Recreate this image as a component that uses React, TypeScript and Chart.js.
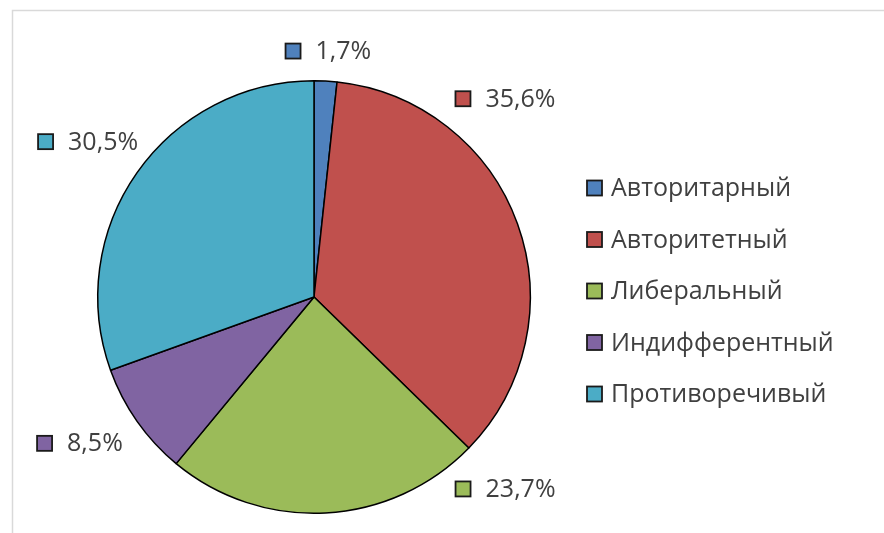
import React, { useEffect, useRef } from "react";
import { Chart, registerables } from "chart.js";

Chart.register(...registerables);

const categories = ["Авторитарный", "Авторитетный", "Либеральный", "Индифферентный", "Противоречивый"];
const values = [1.7, 35.6, 23.7, 8.5, 30.5];
const colors = ["#4F81BD", "#C0504D", "#9BBB59", "#8064A2", "#4BACC6"];

// offsets of each data label (marker left-centre) from the slice's outer mid point
const labelOffsets = [
  [-41, -30],
  [-63, -125],
  [129, -24],
  [-101, 22],
  [-100, -31],
];

const FONT = "25px 'Open Sans'";
const TEXT_COLOR = "#404040";
const formatValue = (v: number) => v.toFixed(1).replace(".", ",") + "%";

const drawMarker = (ctx: CanvasRenderingContext2D, x: number, cy: number, color: string) => {
  const s = 15;
  ctx.fillStyle = color;
  ctx.fillRect(x + 1, cy - s / 2, s, s);
  ctx.lineWidth = 1.8;
  ctx.strokeStyle = "#1a1a1a";
  ctx.strokeRect(x + 1, cy - s / 2, s, s);
};

const overlayPlugin = {
  id: "overlay",
  beforeDraw(chart: any) {
    const ctx = chart.ctx as CanvasRenderingContext2D;
    ctx.save();
    ctx.fillStyle = "#ffffff";
    ctx.fillRect(0, 0, chart.width, chart.height);
    ctx.strokeStyle = "#d9d9d9";
    ctx.lineWidth = 1.5;
    ctx.strokeRect(12.5, 10.5, chart.width + 20, chart.height + 20);
    ctx.restore();
  },
  afterDraw(chart: any) {
    const ctx = chart.ctx as CanvasRenderingContext2D;
    const meta = chart.getDatasetMeta(0);
    ctx.save();
    ctx.font = FONT;
    ctx.textBaseline = "middle";
    ctx.textAlign = "left";
    meta.data.forEach((arc: any, i: number) => {
      const mid = (arc.startAngle + arc.endAngle) / 2;
      const px = arc.x + Math.cos(mid) * arc.outerRadius;
      const py = arc.y + Math.sin(mid) * arc.outerRadius;
      const x = px + labelOffsets[i][0];
      const y = py + labelOffsets[i][1];
      drawMarker(ctx, x, y, colors[i]);
      ctx.fillStyle = TEXT_COLOR;
      ctx.fillText(formatValue(values[i]), x + 31, y + 1);
    });
    // legend
    const area = chart.chartArea;
    const lx = area.right + 55;
    const rowH = 51.5;
    const cy0 = (area.top + area.bottom) / 2 - 2 * rowH - 6;
    categories.forEach((name, i) => {
      const cy = cy0 + i * rowH;
      drawMarker(ctx, lx, cy, colors[i]);
      ctx.fillStyle = TEXT_COLOR;
      ctx.fillText(name, lx + 25, cy + 1);
    });
    ctx.restore();
  },
};

export default function App() {
  const ref = useRef<HTMLCanvasElement>(null);
  useEffect(() => {
    if (!ref.current) return;
    const chart = new Chart(ref.current, {
      type: "pie",
      data: {
        labels: categories,
        datasets: [
          {
            data: values,
            backgroundColor: colors,
            borderColor: "#000000",
            borderWidth: 1.5,
          },
        ],
      },
      options: {
        responsive: false,
        animation: false,
        layout: { padding: { left: 97, top: 80, right: 353, bottom: 19 } },
        plugins: {
          legend: { display: false },
          tooltip: { enabled: false },
        },
      },
      plugins: [overlayPlugin],
    });
    return () => chart.destroy();
  }, []);
  return (
    <div style={{ position: "absolute", left: 0, top: 0, width: 884, height: 533 }}>
      <canvas ref={ref} width={884} height={533} />
    </div>
  );
}
